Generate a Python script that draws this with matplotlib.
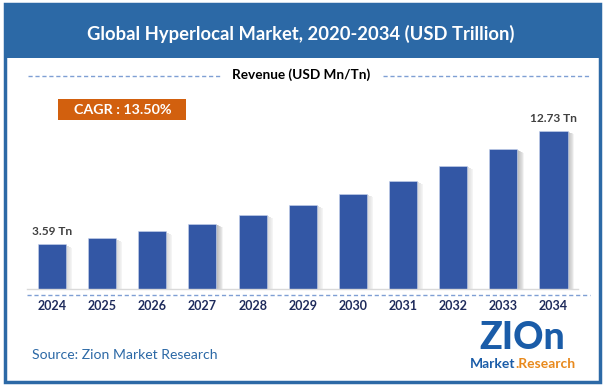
import matplotlib
matplotlib.use("Agg")
import matplotlib.pyplot as plt
from matplotlib.patches import Rectangle
from matplotlib.lines import Line2D

# ---- data -------------------------------------------------------------------
years = ["2024", "2025", "2026", "2027", "2028", "2029",
         "2030", "2031", "2032", "2033", "2034"]
revenue = [3.59, 4.07, 4.62, 5.25, 5.96, 6.76, 7.67, 8.71, 9.89, 11.22, 12.73]
first_label = "3.59 Tn"
last_label = "12.73 Tn"
title = "Global Hyperlocal Market, 2020-2034 (USD Trillion)"
subtitle = "Revenue (USD Mn/Tn)"
cagr = "CAGR : 13.50%"
source = "Source: Zion Market Research"

BLUE = "#2C69A6"
BAR = "#3357A5"
NAVY = "#1E2B5C"
ORANGE = "#D2600E"
DASH = "#7F9FD4"
FONT = "Lato"

W, H = 604, 387
fig = plt.figure(figsize=(W / 100, H / 100), dpi=100)
fig.patch.set_facecolor("white")


def px(x, y):
    """pixel coords (top-left origin) -> figure fraction"""
    return x / W, 1 - y / H


def hline(x0, x1, y):
    fig.add_artist(Line2D([x0 / W, x1 / W], [1 - y / H] * 2, transform=fig.transFigure,
                          color=DASH, lw=1.0, ls=(0, (3, 2))))


# ---- frame + title band -----------------------------------------------------
fig.add_artist(Rectangle(px(4, 58), (W - 8) / W, 54 / H, transform=fig.transFigure,
                         facecolor=BLUE, edgecolor="none", zorder=0))
fig.add_artist(Rectangle(px(5, 382), (W - 9) / W, 378 / H, transform=fig.transFigure,
                         facecolor="none", edgecolor=BLUE, lw=2.5, zorder=5))
fig.text(*px(301, 34), title, ha="center", va="center", color="white",
         fontsize=13.2, fontweight="bold", family=FONT)

# subtitle with dashed rules
fig.text(*px(301.5, 75), subtitle, ha="center", va="center", color="black",
         fontsize=9.8, fontweight="bold", family=FONT)
hline(28, 222, 76)
hline(383, 591, 76)

# CAGR box
fig.add_artist(Rectangle(px(58, 120), 128 / W, 21 / H, transform=fig.transFigure,
                         facecolor=ORANGE, edgecolor="none"))
fig.text(*px(123, 110), cagr, ha="center", va="center", color="white",
         fontsize=10.3, fontweight="bold", family=FONT)

# ---- bars -------------------------------------------------------------------
left, right, bottom, top = 27, 578, 289, 110
ax = fig.add_axes([left / W, 1 - bottom / H, (right - left) / W, (bottom - top) / H])
x = list(range(len(years)))
step = 50.15
ax.set_xlim(-(52 - left) / step, 10 + (right - 553.5) / step)
ax.set_ylim(0, (bottom - top) / 12.45)

# soft shadow to the right of each bar
for k in range(6):
    ax.bar([i + 0.29 + k * 0.02 for i in x], [v - 0.08 - 0.04 * k for v in revenue],
           width=0.025, color="#8A8A8A", alpha=0.34 - 0.05 * k, linewidth=0, zorder=1)
ax.bar(x, revenue, width=0.56, color=BAR, edgecolor="#C9D4EC", linewidth=0.4, zorder=2)

for i, lab in [(0, first_label), (10, last_label)]:
    ax.annotate(lab, (i, revenue[i]), xytext=(0, 5), textcoords="offset points",
                ha="center", va="bottom", fontsize=8.6, fontweight="bold",
                color="#404040", family=FONT)

for s in ["top", "right", "left"]:
    ax.spines[s].set_visible(False)
ax.spines["bottom"].set_color("#D9D9D9")
ax.spines["bottom"].set_linewidth(1)
ax.set_yticks([])
ax.set_xticks(x, years)
ax.tick_params(axis="x", length=0, pad=8, labelsize=9, labelcolor=NAVY)
for t in ax.get_xticklabels():
    t.set_fontweight("bold")
    t.set_family(FONT)
ax.set_facecolor("none")

hline(27, 590, 295)

# ---- footer -----------------------------------------------------------------
fig.text(*px(32, 355), source, ha="left", va="center", color=BLUE,
         fontsize=10.1, family=FONT)
fig.text(*px(522, 338), "ZIOn", ha="center", va="center", color="#1A5CA8",
         fontsize=27, fontweight="black", family=FONT)
fig.text(*px(515, 364), "Market", ha="right", va="center", color="#1A5CA8",
         fontsize=10, fontweight="bold", family=FONT)
fig.text(*px(515, 364), ".Research", ha="left", va="center", color="#E8891C",
         fontsize=10, fontweight="bold", family=FONT)

fig.savefig("out.png", dpi=100)
